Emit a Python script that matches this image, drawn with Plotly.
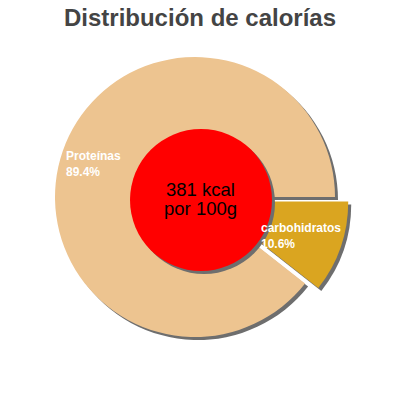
import plotly.graph_objects as go

# datos
labels = ["carbohidratos", "Proteínas"]
percents = [10.6, 89.4]
colors = ["#DAA520", "#EDC490"]
pulls = [0.1, 0]
title = "Distribución de calorías"
center_lines = ["381 kcal", "por 100g"]

W, H = 400, 400
cx, cy, r = 195, 197, 140  # centro y radio del pastel (px)
half = r * (1 + max(pulls))
SHADOW = "#6e6e6e"


def dom(x0, y0):
    return dict(
        x=[(x0 - half) / W, (x0 + half) / W],
        y=[1 - (y0 + half) / H, 1 - (y0 - half) / H],
    )


def py(v):
    return 1 - v / H


fig = go.Figure()

# sombra
fig.add_trace(go.Pie(
    labels=labels, values=percents, sort=False, direction="clockwise",
    rotation=90, pull=pulls, textinfo="none", hoverinfo="skip",
    marker=dict(colors=[SHADOW] * 2, line=dict(width=0)),
    domain=dom(cx + 3, cy + 3), showlegend=False,
))
fig.add_trace(go.Pie(
    labels=labels, values=percents, sort=False, direction="clockwise",
    rotation=90, pull=pulls, textinfo="none",
    marker=dict(colors=colors, line=dict(width=0)),
    domain=dom(cx, cy), showlegend=False,
))

# círculo central con sombra
rx, ry, rr = 201, 200, 71
fig.add_shape(type="circle", xref="paper", yref="paper",
              x0=(rx - rr + 3) / W, x1=(rx + rr + 3) / W,
              y0=py(ry + rr + 3), y1=py(ry - rr + 3),
              fillcolor=SHADOW, line_width=0, layer="above")
fig.add_shape(type="circle", xref="paper", yref="paper",
              x0=(rx - rr) / W, x1=(rx + rr) / W,
              y0=py(ry + rr), y1=py(ry - rr),
              fillcolor="#FF0000", line_width=0, layer="above")

for txt, yc in zip(center_lines, [189.5, 208]):
    fig.add_annotation(x=200 / W, y=py(yc), xref="paper", yref="paper",
                       text=txt, showarrow=False,
                       font=dict(size=18.5, color="black"))

# etiquetas de los segmentos
label_pos = {"Proteínas": (64, 164), "carbohidratos": (259, 236)}
for name, pct in zip(labels, percents):
    x0, y0 = label_pos[name]
    fig.add_annotation(x=x0 / W, y=py(y0), xref="paper", yref="paper",
                       xanchor="left", align="left", showarrow=False,
                       text=f"<b>{name}<br>{pct}%</b>",
                       font=dict(size=12, color="white"))

fig.update_layout(
    width=W, height=H,
    margin=dict(l=0, r=0, t=0, b=0),
    paper_bgcolor="white",
    font=dict(family="Liberation Sans, Arial, sans-serif"),
    title=dict(text=f"<b>{title}</b>", x=0.5, xanchor="center",
               y=py(18), yanchor="middle",
               font=dict(size=24, color="#444444")),
)

fig.write_html("out.html", config={"displayModeBar": False},
               post_script="document.body.style.margin = '0';")
